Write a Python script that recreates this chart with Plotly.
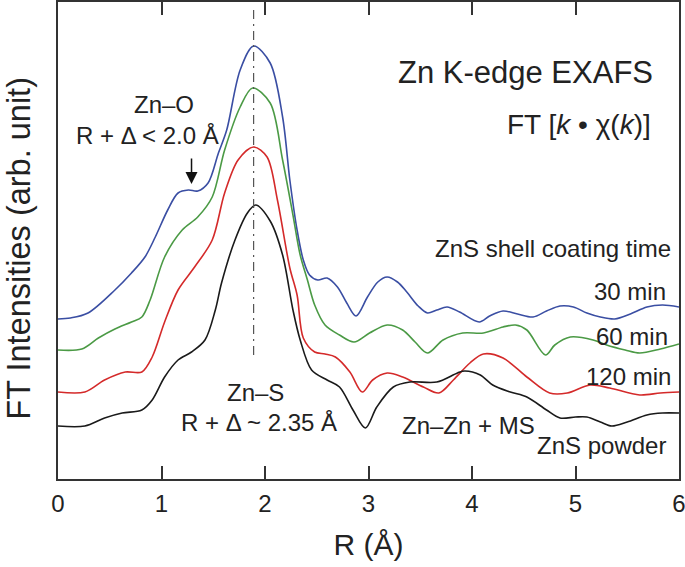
import plotly.graph_objects as go

# ---- data ----
r_30 = [0.00, 0.12, 0.29, 0.55, 0.71, 0.84, 0.94, 1.06, 1.16, 1.26, 1.35, 1.45, 1.55, 1.63, 1.76, 1.89,
        2.05, 2.17, 2.24, 2.31, 2.37, 2.43, 2.51, 2.60, 2.70, 2.79, 2.88, 2.99, 3.09, 3.18, 3.28, 3.37,
        3.48, 3.57, 3.66, 3.76, 3.88, 4.07, 4.17, 4.30, 4.44, 4.59, 4.72, 4.85, 4.98, 5.11, 5.24, 5.38,
        5.53, 5.69, 5.84, 6.00]
i_30 = [1.60, 1.61, 1.66, 1.89, 2.06, 2.22, 2.42, 2.69, 2.86, 2.89, 2.88, 2.96, 3.26, 3.49, 4.09, 4.33,
        4.16, 3.62, 2.99, 2.49, 2.19, 2.04, 1.99, 2.01, 1.92, 1.76, 1.63, 1.82, 1.97, 2.02, 1.97, 1.87,
        1.73, 1.66, 1.69, 1.72, 1.67, 1.57, 1.63, 1.68, 1.65, 1.62, 1.68, 1.73, 1.72, 1.66, 1.62, 1.60,
        1.65, 1.72, 1.74, 1.72]

r_60 = [0.00, 0.23, 0.39, 0.55, 0.71, 0.81, 0.89, 1.03, 1.20, 1.35, 1.49, 1.61, 1.76, 1.88, 2.05, 2.17,
        2.27, 2.34, 2.41, 2.48, 2.58, 2.72, 2.86, 3.01, 3.18, 3.33, 3.45, 3.57, 3.72, 3.91, 4.11, 4.30,
        4.42, 4.53, 4.71, 4.80, 4.95, 5.17, 5.30, 5.48, 5.62, 5.82, 6.00]
i_60 = [1.29, 1.30, 1.41, 1.50, 1.57, 1.62, 1.79, 2.22, 2.49, 2.62, 2.82, 3.29, 3.72, 3.91, 3.76, 3.19,
        2.64, 2.24, 1.99, 1.74, 1.54, 1.44, 1.37, 1.46, 1.54, 1.49, 1.37, 1.26, 1.39, 1.46, 1.46, 1.52,
        1.54, 1.49, 1.24, 1.34, 1.42, 1.39, 1.34, 1.29, 1.26, 1.30, 1.35]

r_120 = [0.00, 0.26, 0.45, 0.65, 0.81, 0.91, 1.03, 1.16, 1.32, 1.49, 1.61, 1.74, 1.89, 2.02, 2.12, 2.24,
         2.31, 2.37, 2.48, 2.58, 2.68, 2.82, 2.94, 3.04, 3.18, 3.33, 3.53, 3.68, 3.82, 3.98, 4.11, 4.30,
         4.53, 4.75, 4.92, 5.14, 5.33, 5.62, 5.82, 6.00]
i_120 = [0.87, 0.87, 0.99, 1.07, 1.07, 1.22, 1.57, 1.89, 2.12, 2.39, 2.86, 3.19, 3.32, 3.22, 2.79, 2.11,
         1.84, 1.41, 1.27, 1.25, 1.22, 1.07, 0.87, 0.99, 1.06, 1.02, 0.92, 0.86, 0.99, 1.16, 1.25, 1.21,
         1.02, 0.86, 0.86, 0.94, 0.91, 0.84, 0.86, 0.87]

r_zns = [0.00, 0.26, 0.45, 0.62, 0.81, 0.91, 1.03, 1.16, 1.29, 1.42, 1.52, 1.58, 1.71, 1.83, 1.91, 2.05,
         2.17, 2.27, 2.34, 2.45, 2.60, 2.72, 2.85, 2.97, 3.08, 3.24, 3.40, 3.66, 3.86, 3.93, 4.08, 4.20,
         4.37, 4.53, 4.72, 4.85, 5.00, 5.11, 5.24, 5.35, 5.50, 5.69, 5.84, 6.00]
i_zns = [0.53, 0.53, 0.61, 0.66, 0.69, 0.79, 1.02, 1.19, 1.27, 1.39, 1.69, 1.96, 2.39, 2.66, 2.74, 2.58,
         2.24, 1.69, 1.39, 1.09, 0.99, 0.92, 0.69, 0.51, 0.72, 0.92, 0.97, 0.97, 1.06, 1.08, 1.04, 0.94,
         0.87, 0.82, 0.69, 0.61, 0.62, 0.62, 0.57, 0.53, 0.57, 0.64, 0.66, 0.66]

x_ticks = [0, 1, 2, 3, 4, 5, 6]
zns_peak_r = 1.89

FONT = "Liberation Sans, Arial, Helvetica, sans-serif"
TXT = "#222222"

fig = go.Figure()
series = [
    (r_30, i_30, "#3a4ea3", "30 min"),
    (r_60, i_60, "#4b9a45", "60 min"),
    (r_120, i_120, "#d42a2a", "120 min"),
    (r_zns, i_zns, "#1a1a1a", "ZnS powder"),
]
for rr, ii, col, name in series:
    fig.add_trace(go.Scatter(x=rr, y=ii, mode="lines", name=name,
                             line=dict(color=col, width=1.6, shape="spline", smoothing=0.9),
                             showlegend=False, hoverinfo="skip"))

# vertical dash-dot line at the Zn-S peak
fig.add_shape(type="line", xref="x", yref="y", x0=zns_peak_r, x1=zns_peak_r, y0=1.24, y1=4.72,
              line=dict(color="#555555", width=1.2, dash="9px,5px,2px,5px"))

def ann(text, x, y, size=24, xanchor="center"):
    fig.add_annotation(text=text, x=x, y=y, xref="x", yref="y", showarrow=False,
                       xanchor=xanchor, yanchor="middle",
                       font=dict(family=FONT, size=size, color=TXT))

ann("Zn K-edge EXAFS", 5.77, 4.07, size=31, xanchor="right")
ann("FT [<i>k</i> • χ(<i>k</i>)]", 5.75, 3.55, size=28, xanchor="right")
ann("Zn–O", 1.02, 3.75)
ann("R + Δ < 2.0 Å", 0.86, 3.44)
ann("ZnS shell coating time", 5.94, 2.31, xanchor="right")
ann("30 min", 5.89, 1.88, xanchor="right")
ann("60 min", 5.91, 1.43, xanchor="right")
ann("120 min", 5.94, 1.03, xanchor="right")
ann("ZnS powder", 5.89, 0.34, xanchor="right")
ann("Zn–Zn + MS", 3.30, 0.54, xanchor="left")
ann("Zn–S", 1.91, 0.87)
ann("R + Δ ~ 2.35 Å", 1.94, 0.57)

# y-axis title placed as a rotated annotation
fig.add_annotation(text="FT Intensities (arb. unit)", xref="paper", yref="paper",
                   x=-0.062, y=0.484, xanchor="center", yanchor="middle", textangle=-90,
                   showarrow=False, font=dict(family=FONT, size=32.5, color=TXT))

# arrow pointing at Zn-O shoulder
fig.add_annotation(x=1.29, y=2.95, xref="x", yref="y", text="", showarrow=True,
                   ax=0, ay=-27, axref="pixel", ayref="pixel",
                   arrowhead=2, arrowsize=1.6, arrowwidth=1.5, arrowcolor="#111111")

fig.update_layout(
    width=685, height=567,
    margin=dict(l=58, r=6, t=2, b=88, autoexpand=False),
    paper_bgcolor="white", plot_bgcolor="white",
    font=dict(family=FONT, color=TXT),
)
fig.update_xaxes(
    range=[0, 6], tickmode="array", tickvals=x_ticks, ticktext=[str(t) for t in x_ticks],
    ticks="inside", ticklen=13, tickwidth=1.5, tickcolor="#333333",
    showline=True, linecolor="#333333", linewidth=2, mirror="ticks",
    showgrid=False, zeroline=False, automargin=False, ticklabeloverflow="allow",
    tickfont=dict(family=FONT, size=24, color=TXT), ticklabelstandoff=2,
    title=dict(text="R (Å)", font=dict(family=FONT, size=30, color=TXT), standoff=18),
)
fig.update_yaxes(
    range=[0, 4.77], showticklabels=False, ticks="",
    showline=True, linecolor="#333333", linewidth=2, mirror=True,
    showgrid=False, zeroline=False, automargin=False,
)

fig.write_html("out.html", config={"displayModeBar": False},
               post_script="document.body.style.margin='0';document.body.style.padding='0';")
